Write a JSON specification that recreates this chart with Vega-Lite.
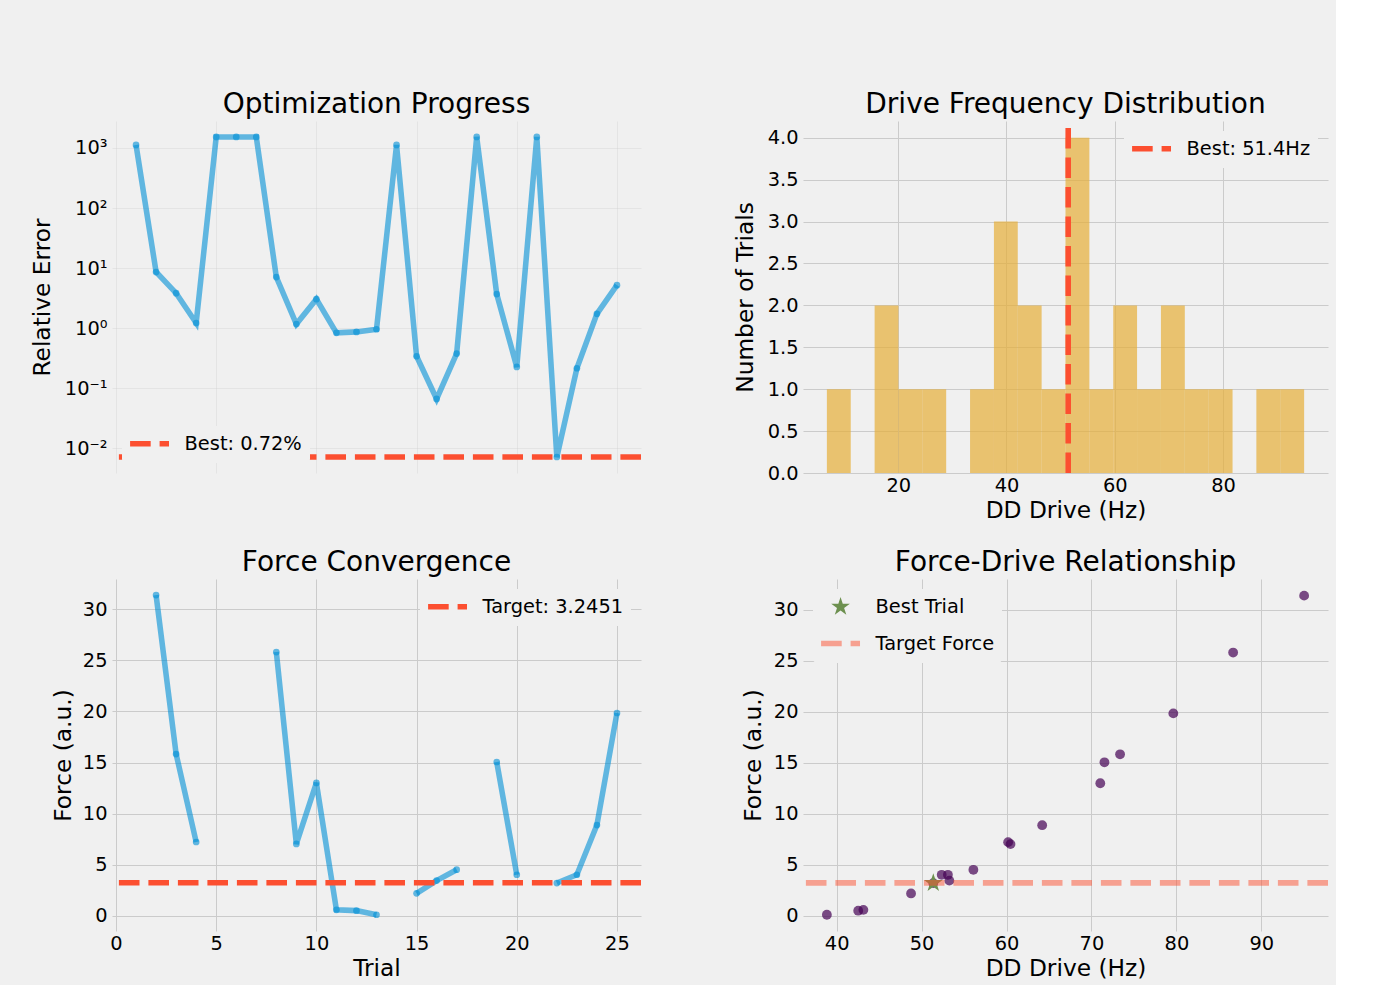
{
  "$schema": "https://vega.github.io/schema/vega-lite/v6.json",
  "background": "#f0f0f0",
  "padding": {"left": 30, "top": 90, "right": 5, "bottom": 5},
  "config": {
    "font": "DejaVu Sans",
    "view": {"stroke": null},
    "axis": {"domain": false, "ticks": false, "grid": true, "gridColor": "#cbcbcb", "gridWidth": 1, "labelFont": "DejaVu Sans", "labelFontSize": 19.4, "labelColor": "#000000", "labelPadding": 3, "titleFont": "DejaVu Sans", "titleFontSize": 23.3, "titleFontWeight": "normal", "titleColor": "#000000"},
    "axisX": {"titlePadding": 5},
    "axisY": {"labelPadding": 5},
    "title": {"font": "DejaVu Sans", "fontSize": 28, "fontWeight": "normal", "color": "#000000", "offset": 2.4, "anchor": "middle"},
    "legend": {"labelFont": "DejaVu Sans", "labelFontSize": 19.4, "labelColor": "#000000", "fillColor": "#f0f0f0", "padding": 7.8, "offset": 9.7, "cornerRadius": 4, "symbolType": "M-2.823,0L2.823,0", "symbolSize": 190, "symbolStrokeWidth": 5.56, "symbolDash": [20.6, 8.9], "symbolOffset": 9.75, "labelOffset": 25, "rowPadding": 4.7, "labelLimit": 400, "zindex": 1}
  },
  "datasets": {
    "trials": [
      {"trial": 1, "error": 1122, "force": null, "drive": null},
      {"trial": 2, "error": 8.6, "force": 31.37, "drive": 95.04},
      {"trial": 3, "error": 3.83, "force": 15.83, "drive": 73.37},
      {"trial": 4, "error": 1.22, "force": 7.23, "drive": 60.19},
      {"trial": 5, "error": 1525, "force": null, "drive": null},
      {"trial": 6, "error": 1525, "force": null, "drive": null},
      {"trial": 7, "error": 1525, "force": null, "drive": null},
      {"trial": 8, "error": 7.08, "force": 25.8, "drive": 86.68},
      {"trial": 9, "error": 1.17, "force": 7.04, "drive": 60.47},
      {"trial": 10, "error": 3.04, "force": 13.0, "drive": 71.04},
      {"trial": 11, "error": 0.835, "force": 0.6, "drive": 43.15},
      {"trial": 12, "error": 0.867, "force": 0.52, "drive": 42.54},
      {"trial": 13, "error": 0.96, "force": 0.12, "drive": 38.85},
      {"trial": 14, "error": 1122, "force": null, "drive": null},
      {"trial": 15, "error": 0.341, "force": 2.21, "drive": 48.76},
      {"trial": 16, "error": 0.0663, "force": 3.46, "drive": 53.27},
      {"trial": 17, "error": 0.377, "force": 4.52, "drive": 56.1},
      {"trial": 18, "error": 1525, "force": null, "drive": null},
      {"trial": 19, "error": 3.69, "force": 15.05, "drive": 71.53},
      {"trial": 20, "error": 0.226, "force": 4.03, "drive": 52.37},
      {"trial": 21, "error": 1525, "force": null, "drive": null},
      {"trial": 22, "error": 0.00716, "force": 3.22, "drive": 51.38},
      {"trial": 23, "error": 0.215, "force": 4.03, "drive": 53.1},
      {"trial": 24, "error": 1.73, "force": 8.89, "drive": 64.2},
      {"trial": 25, "error": 5.2, "force": 19.84, "drive": 79.64}
    ],
    "hist": [
      {"lo": 6.82, "hi": 11.23, "n": 1},
      {"lo": 15.64, "hi": 20.04, "n": 2},
      {"lo": 20.04, "hi": 24.45, "n": 1},
      {"lo": 24.45, "hi": 28.86, "n": 1},
      {"lo": 33.27, "hi": 37.68, "n": 1},
      {"lo": 37.68, "hi": 42.08, "n": 3},
      {"lo": 42.08, "hi": 46.49, "n": 2},
      {"lo": 46.49, "hi": 50.9, "n": 1},
      {"lo": 50.9, "hi": 55.31, "n": 4},
      {"lo": 55.31, "hi": 59.72, "n": 1},
      {"lo": 59.72, "hi": 64.12, "n": 2},
      {"lo": 64.12, "hi": 68.53, "n": 1},
      {"lo": 68.53, "hi": 72.94, "n": 2},
      {"lo": 72.94, "hi": 77.35, "n": 1},
      {"lo": 77.35, "hi": 81.76, "n": 1},
      {"lo": 86.16, "hi": 90.57, "n": 1},
      {"lo": 90.57, "hi": 94.98, "n": 1}
    ]
  },
  "resolve": {
    "scale": {"color": "independent", "fill": "independent", "stroke": "independent", "shape": "independent"},
    "legend": {"color": "independent", "fill": "independent", "stroke": "independent", "shape": "independent"}
  },
  "columns": 2,
  "spacing": {"row": 106, "column": 162},
  "bounds": "flush",
  "concat": [
    {
      "width": 529, "height": 352,
      "title": "Optimization Progress",
      "layer": [
        {
          "data": {"name": "trials"},
          "mark": {"type": "line", "color": "#008fd5", "opacity": 0.6, "strokeWidth": 5.56, "strokeCap": "butt"},
          "encoding": {
            "x": {"field": "trial", "type": "quantitative", "scale": {"domain": [-0.2, 26.2], "nice": false, "zero": false}, "axis": {"values": [0, 5, 10, 15, 20, 25], "labels": false, "title": null, "gridOpacity": 0.3}},
            "y": {"field": "error", "type": "quantitative", "scale": {"type": "log", "domain": [0.00388, 2812], "nice": false}, "axis": {"values": [0.01, 0.1, 1, 10, 100, 1000], "title": "Relative Error", "titlePadding": 10, "gridOpacity": 0.3, "labelExpr": "datum.value >= 999 ? '10³' : datum.value >= 99 ? '10²' : datum.value >= 9 ? '10¹' : datum.value >= 0.9 ? '10⁰' : datum.value >= 0.09 ? '10⁻¹' : '10⁻²'"}}
          }
        },
        {
          "data": {"name": "trials"},
          "mark": {"type": "point", "filled": true, "color": "#008fd5", "opacity": 0.6, "size": 45},
          "encoding": {
            "x": {"field": "trial", "type": "quantitative"},
            "y": {"field": "error", "type": "quantitative"}
          }
        },
        {
          "data": {"values": [{"best": 0.00716, "label": "Best: 0.72%"}]},
          "mark": {"type": "rule", "strokeDash": [20.6, 8.9], "strokeWidth": 5.56, "strokeCap": "butt"},
          "encoding": {
            "y": {"field": "best", "type": "quantitative"},
            "color": {"field": "label", "type": "nominal", "scale": {"domain": ["Best: 0.72%"], "range": ["#fc4f30"]}, "legend": {"title": null, "orient": "bottom-left"}}
          }
        }
      ]
    },
    {
      "width": 525, "height": 352,
      "title": {"text": "Drive Frequency Distribution", "offset": -0.6},
      "layer": [
        {
          "data": {"name": "hist"},
          "mark": {"type": "bar", "color": "#e5ae38", "opacity": 0.7, "strokeWidth": 0},
          "encoding": {
            "x": {"field": "lo", "type": "quantitative", "scale": {"domain": [2.41, 99.39], "nice": false, "zero": false}, "axis": {"values": [20, 40, 60, 80], "title": "DD Drive (Hz)"}},
            "x2": {"field": "hi"},
            "y": {"field": "n", "type": "quantitative", "scale": {"domain": [0, 4.2], "nice": false}, "axis": {"values": [0, 0.5, 1, 1.5, 2, 2.5, 3, 3.5, 4], "format": ".1f", "title": "Number of Trials", "titlePadding": 9.5}},
            "y2": {"datum": 0}
          }
        },
        {
          "data": {"values": [{"best": 51.4, "lo": 0, "hi": 4.2, "label": "Best: 51.4Hz"}]},
          "mark": {"type": "rule", "strokeDash": [20.6, 8.9], "strokeWidth": 5.56, "strokeCap": "butt"},
          "encoding": {
            "x": {"field": "best", "type": "quantitative"},
            "y": {"field": "lo", "type": "quantitative"},
            "y2": {"field": "hi"},
            "color": {"field": "label", "type": "nominal", "scale": {"domain": ["Best: 51.4Hz"], "range": ["#fc4f30"]}, "legend": {"title": null, "orient": "top-right"}}
          }
        }
      ]
    },
    {
      "width": 529, "height": 352,
      "title": "Force Convergence",
      "layer": [
        {
          "data": {"name": "trials"},
          "mark": {"type": "line", "color": "#008fd5", "opacity": 0.6, "strokeWidth": 5.56, "strokeCap": "butt", "invalid": "break-paths-filter-domains"},
          "encoding": {
            "x": {"field": "trial", "type": "quantitative", "scale": {"domain": [-0.2, 26.2], "nice": false, "zero": false}, "axis": {"values": [0, 5, 10, 15, 20, 25], "title": "Trial"}},
            "y": {"field": "force", "type": "quantitative", "scale": {"domain": [-1.47, 32.94], "nice": false, "zero": false}, "axis": {"values": [0, 5, 10, 15, 20, 25, 30], "title": "Force (a.u.)", "titlePadding": 7}}
          }
        },
        {
          "data": {"name": "trials"},
          "transform": [{"filter": "isValid(datum.force)"}],
          "mark": {"type": "point", "filled": true, "color": "#008fd5", "opacity": 0.6, "size": 45},
          "encoding": {
            "x": {"field": "trial", "type": "quantitative"},
            "y": {"field": "force", "type": "quantitative"}
          }
        },
        {
          "data": {"values": [{"target": 3.2451, "label": "Target: 3.2451"}]},
          "mark": {"type": "rule", "strokeDash": [20.6, 8.9], "strokeWidth": 5.56, "strokeCap": "butt"},
          "encoding": {
            "y": {"field": "target", "type": "quantitative"},
            "color": {"field": "label", "type": "nominal", "scale": {"domain": ["Target: 3.2451"], "range": ["#fc4f30"]}, "legend": {"title": null, "orient": "top-right"}}
          }
        }
      ]
    },
    {
      "width": 525, "height": 352,
      "title": "Force-Drive Relationship",
      "layer": [
        {
          "data": {"name": "trials"},
          "transform": [{"filter": "isValid(datum.drive)"}],
          "mark": {"type": "point", "filled": true, "shape": "circle", "color": "#440154", "opacity": 0.7, "size": 96},
          "encoding": {
            "x": {"field": "drive", "type": "quantitative", "scale": {"domain": [36.04, 97.85], "nice": false, "zero": false}, "axis": {"values": [40, 50, 60, 70, 80, 90], "title": "DD Drive (Hz)"}},
            "y": {"field": "force", "type": "quantitative", "scale": {"domain": [-1.47, 33.0], "nice": false, "zero": false}, "axis": {"values": [0, 5, 10, 15, 20, 25, 30], "title": "Force (a.u.)", "titlePadding": 7.5}}
          }
        },
        {
          "data": {"values": [{"drive": 51.38, "force": 3.22, "series": "Best Trial"}]},
          "mark": {"type": "point", "filled": true, "opacity": 1, "size": 190},
          "encoding": {
            "x": {"field": "drive", "type": "quantitative"},
            "y": {"field": "force", "type": "quantitative"},
            "fill": {"field": "series", "type": "nominal", "scale": {"domain": ["Best Trial", "Target Force"], "range": ["#6d904f", "transparent"]}, "legend": {"title": null, "orient": "top-left"}},
            "shape": {"field": "series", "type": "nominal", "scale": {"domain": ["Best Trial", "Target Force"], "range": ["M0,-1.422L0.3193,-0.4394L1.3525,-0.4394L0.5166,0.1678L0.8359,1.1504L0,0.5432L-0.8359,1.1504L-0.5166,0.1678L-1.3525,-0.4394L-0.3193,-0.4394Z", "M-2.823,0L2.823,0"]}, "legend": {"title": null, "orient": "top-left"}}
          }
        },
        {
          "data": {"values": [{"target": 3.2451, "series": "Target Force"}]},
          "mark": {"type": "rule", "strokeDash": [20.6, 8.9], "strokeWidth": 5.56, "strokeCap": "butt"},
          "encoding": {
            "y": {"field": "target", "type": "quantitative"},
            "stroke": {"field": "series", "type": "nominal", "scale": {"domain": ["Best Trial", "Target Force"], "range": ["transparent", "rgba(252,79,48,0.5)"]}, "legend": {"title": null, "orient": "top-left"}}
          }
        }
      ]
    }
  ]
}
